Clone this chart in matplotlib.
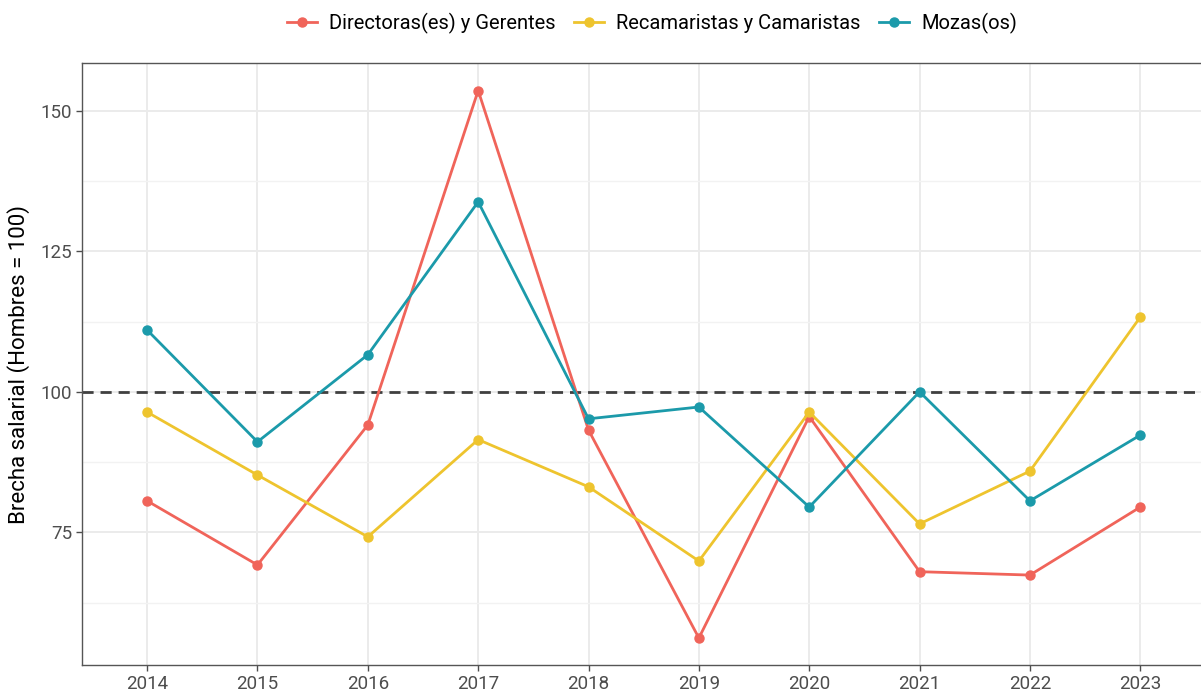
import matplotlib
matplotlib.use("Agg")
import matplotlib.pyplot as plt

plt.rcParams['font.family'] = ['Roboto', 'DejaVu Sans']

years = [2014, 2015, 2016, 2017, 2018, 2019, 2020, 2021, 2022, 2023]
directoras = [80.6, 69.2, 94.1, 153.6, 93.2, 56.2, 95.6, 68.0, 67.4, 79.5]
recamaristas = [96.4, 85.2, 74.2, 91.5, 83.1, 69.9, 96.4, 76.5, 85.9, 113.3]
mozas = [111.0, 91.1, 106.6, 133.8, 95.2, 97.3, 79.5, 100.0, 80.6, 92.3]

series = [
    ("Directoras(es) y Gerentes", directoras, "#F0645A"),
    ("Recamaristas y Camaristas", recamaristas, "#EEC42E"),
    ("Mozas(os)", mozas, "#1B9AAA"),
]

fig = plt.figure(figsize=(12.01, 6.93), dpi=100)
ax = fig.add_axes([82 / 1201, 1 - 665 / 693, 1 - 82 / 1201, (665 - 63) / 693])

for name, vals, col in series:
    ax.plot(years, vals, color=col, lw=2, marker='o', ms=6.5, label=name, zorder=3)

ax.axhline(100, color='#404040', lw=2, ls=(0, (4, 2.5)), zorder=2)

ax.set_xlim(2013.41, 2023.55)
ax.set_ylim(51.4, 158.5)
ax.set_xticks(years)
ax.set_yticks([75, 100, 125, 150])
ax.set_yticks([62.5, 87.5, 112.5, 137.5], minor=True)
ax.grid(True, which='major', color='#EBEBEB', lw=1.4, zorder=0)
ax.grid(True, which='minor', axis='y', color='#F2F2F2', lw=1.0, zorder=0)
ax.set_axisbelow(True)

for s in ['top', 'left', 'bottom']:
    ax.spines[s].set_color('#555555')
    ax.spines[s].set_linewidth(1.0)
ax.spines['right'].set_visible(False)

ax.tick_params(axis='both', which='major', labelsize=13.5, colors='#4D4D4D',
               length=4, width=1, pad=3)
ax.tick_params(axis='both', which='minor', length=0)
ax.set_ylabel("Brecha salarial (Hombres = 100)", fontsize=16, color='black', labelpad=8)

fig.legend(loc='upper center', bbox_to_anchor=(0.543, 1.008), ncol=3, frameon=False,
           fontsize=14.5, handlelength=1.5, columnspacing=0.9, handletextpad=0.6)

fig.savefig("out.png", dpi=100)
